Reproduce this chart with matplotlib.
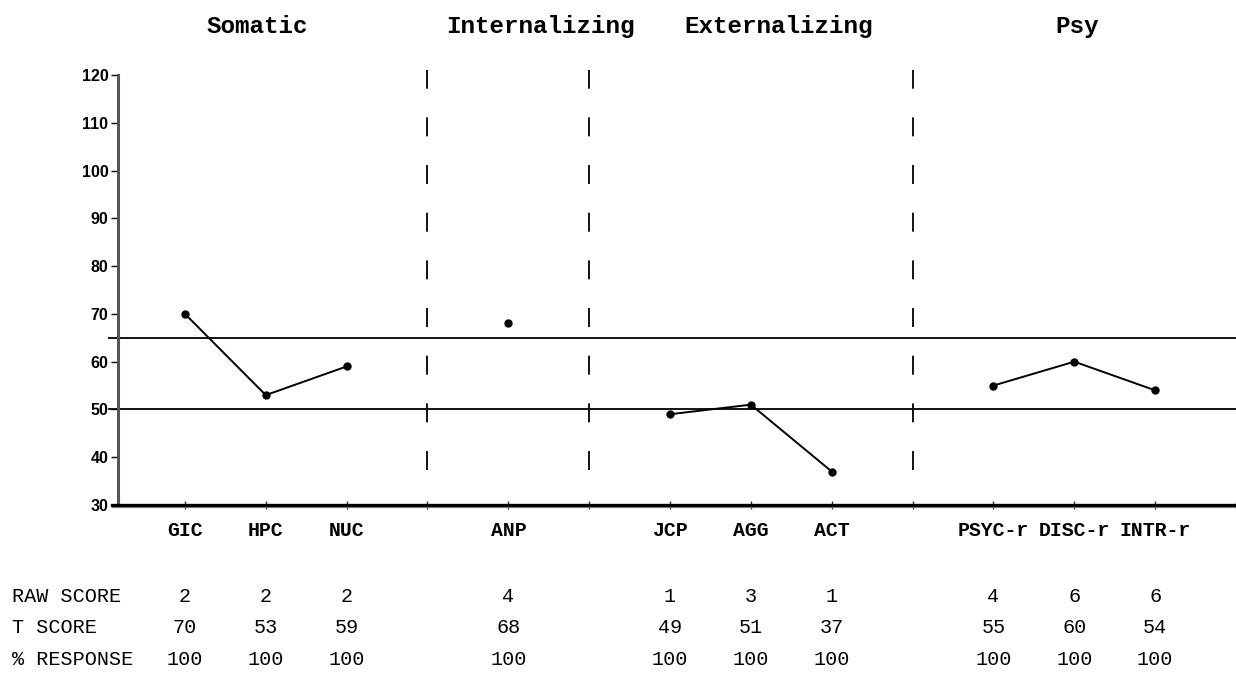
import matplotlib
matplotlib.use("Agg")
import matplotlib.pyplot as plt
import matplotlib.transforms as mtransforms

# ---- data ----
groups = ["Somatic", "Internalizing", "Externalizing", "Psy"]
group_scales = [["GIC", "HPC", "NUC"], ["ANP"], ["JCP", "AGG", "ACT"],
                ["PSYC-r", "DISC-r", "INTR-r"]]
raw_scores = [[2, 2, 2], [4], [1, 3, 1], [4, 6, 6]]
t_scores = [[70, 53, 59], [68], [49, 51, 37], [55, 60, 54]]
pct_response = [[100, 100, 100], [100], [100, 100, 100], [100, 100, 100]]
row_labels = ["RAW SCORE", "T SCORE", "% RESPONSE"]
y_ticks = list(range(30, 121, 10))
ref_lines = [65, 50]

# ---- layout ----
W, H = 1236, 675
fig = plt.figure(figsize=(W / 100, H / 100), dpi=100)
ax_left_px, ax_right_px = 118, 1236
ax_bot_px, ax_top_px = 505, 75
ax = fig.add_axes([ax_left_px / W, 1 - ax_bot_px / H,
                   (ax_right_px - ax_left_px) / W, (ax_bot_px - ax_top_px) / H])
ax.set_ylim(30, 120)
ax.set_xlim(0.172, 13.99)

mono = "Liberation Mono"
sans = "Liberation Sans"

# slot positions: each group occupies its scales, followed by a separator slot
pos = 1
group_x = []
sep_x = []
for scales in group_scales:
    xs = list(range(pos, pos + len(scales)))
    group_x.append(xs)
    pos += len(scales)
    sep_x.append(pos)
    pos += 1
sep_x = sep_x[:-1]
all_slots = list(range(1, 14))

# spines
for s in ["top", "right"]:
    ax.spines[s].set_visible(False)
ax.spines["bottom"].set_visible(False)
ax.spines["left"].set_linewidth(2.2)
ax.spines["left"].set_color("#555555")

# bottom double line
ax.plot([0.1, 14.0], [30, 30], color="black", lw=2.4, clip_on=False, zorder=3)
ax.plot([0.1, 14.0], [29.55, 29.55], color="#777777", lw=0.8, clip_on=False, zorder=3)
ax.set_xticks(all_slots + [14])
ax.set_xticklabels([])
ax.tick_params(axis="x", direction="inout", length=6, width=1.0, color="#333333")

# y ticks
ax.set_yticks(y_ticks)
ax.set_yticklabels([str(v) for v in y_ticks], fontfamily=sans,
                   fontweight="bold", fontsize=11.5)
ax.tick_params(axis="y", direction="out", length=5, width=1.0, pad=2)

# reference lines
for r in ref_lines:
    ax.axhline(r, xmin=-0.008, xmax=1.0, color="black", lw=1.3, clip_on=False)

# dashed separators
for sx in sep_x:
    ax.plot([sx, sx], [37.4, 121.0], color="black", lw=1.3,
            linestyle=(0, (10.5, 15.9)), clip_on=False)

# profile lines
for xs, ts in zip(group_x, t_scores):
    ax.plot(xs, ts, color="black", lw=1.4, marker="o", markersize=5,
            clip_on=False, zorder=4)

# group titles
title_pos = [1.89, 5.40, 8.34, 12.04]
for g, tx in zip(groups, title_pos):
    ax.text(tx, 130.2, g, ha="center", va="center", fontfamily=mono,
            fontweight="bold", fontsize=17.5, clip_on=False)

# scale labels and table
label_y = 24.6
row_y = [10.75, 4.27, -2.4]
for xs, scales, rs, ts, ps in zip(group_x, group_scales, raw_scores, t_scores, pct_response):
    for x, sc, r, t, p in zip(xs, scales, rs, ts, ps):
        ax.text(x, label_y, sc, ha="center", va="center", fontfamily=mono,
                fontweight="bold", fontsize=14.3, clip_on=False)
        for yy, v in zip(row_y, [r, t, p]):
            ax.text(x, yy, str(v), ha="center", va="center", fontfamily=mono,
                    fontsize=14.5, clip_on=False)

blend = mtransforms.blended_transform_factory(fig.transFigure, ax.transData)
for yy, lab in zip(row_y, row_labels):
    ax.text(12 / W, yy, lab, transform=blend, ha="left", va="center",
            fontfamily=mono, fontsize=14.5, clip_on=False)

fig.savefig("out.png", dpi=100)
